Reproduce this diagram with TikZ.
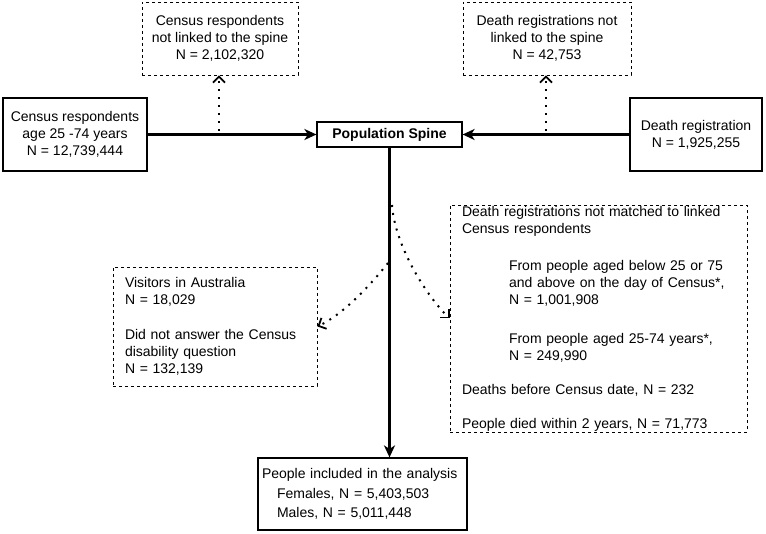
\documentclass[tikz,border=0pt]{standalone}
\usepackage{fontspec}
\setmainfont{Liberation Sans}
\usetikzlibrary{arrows.meta}
\begin{document}
\begin{tikzpicture}[x=1pt,y=-1pt,font=\fontsize{14}{17}\selectfont,
    box/.style={draw,line width=1.2pt,inner sep=0pt,align=center},
    dropbox/.style={draw,line width=0.9pt,dash pattern=on 3pt off 3pt,inner sep=0pt},
    flow/.style={line width=2.2pt,-{Stealth[length=12pt,width=11pt,inset=3.5pt]}},
    drop/.style={line width=2pt,dash pattern=on 2pt off 6pt,
        -{Straight Barb[length=6pt,width=12pt,line width=1.8pt]}}]
    \useasboundingbox (0,0) rectangle (766,534);
    \def\gap{17pt}
    % sources and spine
    \node[box,minimum width=144pt,minimum height=73pt] (census) at (75,134.5)
        {Census respondents\\age 25 -74 years\\N = 12,739,444};
    \node[box,minimum width=145pt,minimum height=25pt] (spine) at (389.5,134.5)
        {\textbf{Population Spine}};
    \node[box,minimum width=132pt,minimum height=73pt] (death) at (696,134.5)
        {Death registration\\N = 1,925,255};
    \node[dropbox,align=center,minimum width=156pt,minimum height=73pt] (censusout) at (220,38.5)
        {Census respondents\\not linked to the spine\\N = 2,102,320};
    \node[dropbox,align=center,minimum width=168pt,minimum height=73pt] (deathout) at (547,38.5)
        {Death registrations not\\linked to the spine\\N = 42,753};
    % exclusions
    \node[dropbox,align=left,inner xsep=12pt,text width=180pt,minimum height=119pt] (visit) at (215,326.5)
        {Visitors in Australia\\N = 18,029\\[18pt]Did not answer the Census\\disability question\\N = 132,139};
    \node[dropbox,align=left,inner xsep=12pt,text width=273pt,minimum height=227pt] (unmatched) at (598.5,318.5)
        {Death registrations not matched to linked\\Census respondents\\[20pt]
        \hspace*{47pt}From people aged below 25 or 75\\
        \hspace*{47pt}and above on the day of Census*,\\
        \hspace*{47pt}N = 1,001,908\\[22pt]
        \hspace*{47pt}From people aged 25-74 years*,\\
        \hspace*{47pt}N = 249,990\\[\gap]
        Deaths before Census date, N = 232\\[\gap]
        People died within 2 years, N = 71,773};
    \node[box,align=left,inner xsep=4pt,text width=201pt,minimum height=72pt] (included) at (362.5,494)
        {People included in the analysis\\[2.5pt]
        \hspace*{15pt}Females, N = 5,403,503\\[2.5pt]
        \hspace*{15pt}Males, N = 5,011,448};
    % connectors
    \draw[flow] (census) -- (spine);
    \draw[flow] (death) -- (spine);
    \draw[flow] (spine) -- (spine |- included.north);
    \coordinate (cdrop) at (219,131);
    \coordinate (ddrop) at (546,131);
    \draw[drop] (cdrop) -- (cdrop |- censusout.south);
    \draw[drop] (ddrop) -- (ddrop |- deathout.south);
    \coordinate (sl) at (388,263);
    \coordinate (sr) at (392,205);
    \draw[drop] (sl) .. controls +(-20,25) and +(25,-12) .. (visit.east);
    \draw[drop] (sr) .. controls +(3,40) and +(-25,-25) .. (unmatched.west);
\end{tikzpicture}
\end{document}
